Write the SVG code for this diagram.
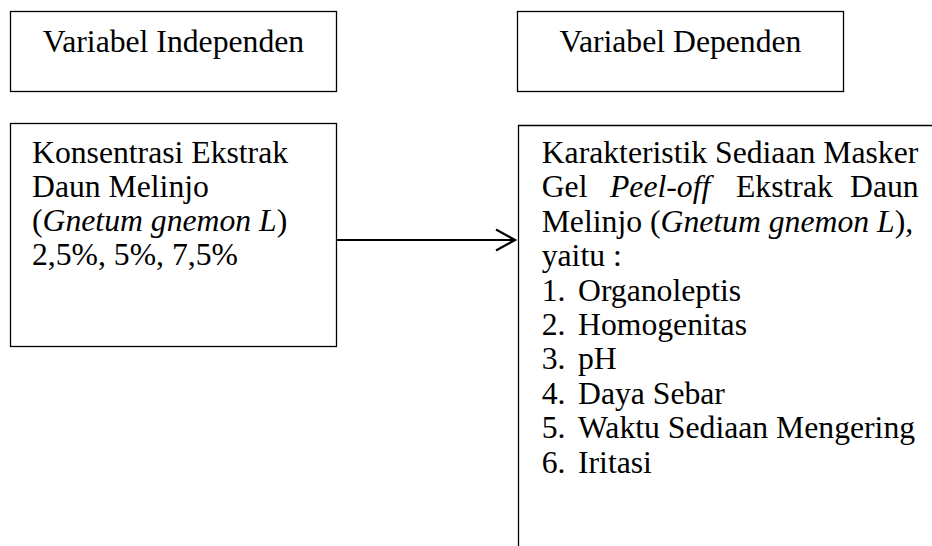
<svg xmlns="http://www.w3.org/2000/svg" width="932" height="546" viewBox="0 0 932 546">
<style>
.box{fill:#fff;stroke:#000;stroke-width:1.3}
.t{font-family:"Liberation Serif","Times New Roman",serif;font-size:31.7px;fill:#000}
.i{font-style:italic}
.c{stroke:#000;stroke-width:2.2;fill:none}
</style>
<rect width="932" height="546" fill="#fff"/>
<g id="var-independen">
<rect class="box" x="10.5" y="11.5" width="326" height="80"/>
<text class="t" x="173.5" y="52" text-anchor="middle">Variabel Independen</text>
</g>
<g id="var-dependen">
<rect class="box" x="517.5" y="11.5" width="326" height="80"/>
<text class="t" x="680.5" y="52" text-anchor="middle">Variabel Dependen</text>
</g>
<g id="konsentrasi">
<rect class="box" x="10.5" y="123.5" width="326" height="223"/>
<text class="t" x="32" y="163">Konsentrasi Ekstrak</text>
<text class="t" x="32" y="197">Daun Melinjo</text>
<text class="t" x="32" y="231">(<tspan class="i">Gnetum gnemon L</tspan>)</text>
<text class="t" x="32" y="265">2,5%, 5%, 7,5%</text>
</g>
<g id="karakteristik">
<path class="box" d="M518.5,546 V125.5 H932" fill="none"/>
<text class="t" x="541.7" y="163">Karakteristik Sediaan Masker</text>
<text class="t" y="197.4"><tspan x="541.7">Gel</tspan><tspan class="i" x="610">Peel-off</tspan><tspan x="736">Ekstrak</tspan><tspan x="850">Daun</tspan></text>
<text class="t" x="541.7" y="231.8">Melinjo (<tspan class="i">Gnetum gnemon L</tspan>)<tspan class="i">,</tspan></text>
<text class="t" x="541.7" y="266.2">yaitu :</text>
<text class="t" y="300.6"><tspan x="541.7">1.</tspan><tspan x="578">Organoleptis</tspan></text>
<text class="t" y="335"><tspan x="541.7">2.</tspan><tspan x="578">Homogenitas</tspan></text>
<text class="t" y="369.4"><tspan x="541.7">3.</tspan><tspan x="578">pH</tspan></text>
<text class="t" y="403.8"><tspan x="541.7">4.</tspan><tspan x="578">Daya Sebar</tspan></text>
<text class="t" y="438.2"><tspan x="541.7">5.</tspan><tspan x="578">Waktu Sediaan Mengering</tspan></text>
<text class="t" y="472.6"><tspan x="541.7">6.</tspan><tspan x="578">Iritasi</tspan></text>
</g>
<g id="connectors">
<line class="c" x1="336.5" y1="240" x2="514" y2="240"/>
<polyline class="c" points="496,229.5 515,240 496,250.5"/>
</g>
</svg>
